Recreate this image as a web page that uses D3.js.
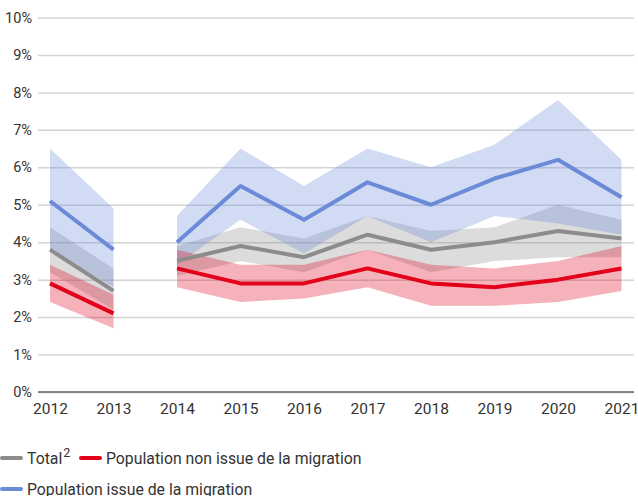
<!DOCTYPE html>
<html>
<head>
<meta charset="utf-8">
<script src="https://cdn.jsdelivr.net/npm/d3@7"></script>
<style>
  body { margin: 0; background: #fff; }
  svg { display: block; font-family: Roboto, sans-serif; }
</style>
</head>
<body>
<div id="chart"></div>
<script>
// years, the series break between 2013 and 2014
const years = [2012, 2013, 2014, 2015, 2016, 2017, 2018, 2019, 2020, 2021];
const segments = [[2012, 2013], [2014, 2015, 2016, 2017, 2018, 2019, 2020, 2021]];

// Total
const totalVal = [3.8, 2.7, 3.5, 3.9, 3.6, 4.2, 3.8, 4.0, 4.3, 4.1];
const totalLow = [3.2, 2.2, 3.1, 3.5, 3.2, 3.8, 3.2, 3.5, 3.6, 3.6];
const totalHigh = [4.4, 3.3, 3.9, 4.4, 4.1, 4.7, 4.3, 4.4, 5.0, 4.6];

// Population non issue de la migration
const nonMigVal = [2.9, 2.1, 3.3, 2.9, 2.9, 3.3, 2.9, 2.8, 3.0, 3.3];
const nonMigLow = [2.4, 1.7, 2.8, 2.4, 2.5, 2.8, 2.3, 2.3, 2.4, 2.7];
const nonMigHigh = [3.4, 2.6, 3.8, 3.4, 3.4, 3.8, 3.4, 3.3, 3.5, 3.9];

// Population issue de la migration
const migVal = [5.1, 3.8, 4.0, 5.5, 4.6, 5.6, 5.0, 5.7, 6.2, 5.2];
const migLow = [3.8, 2.8, 3.4, 4.6, 3.7, 4.7, 4.0, 4.7, 4.5, 4.2];
const migHigh = [6.5, 4.9, 4.7, 6.5, 5.5, 6.5, 6.0, 6.6, 7.8, 6.2];

const yTicks = [0, 1, 2, 3, 4, 5, 6, 7, 8, 9, 10];

const WIDTH = 638, HEIGHT = 496;
const PLOT = {LEFT: 38, RIGHT: 634, TOP: 17.5, BOTTOM: 392};

const series = [
  {name: 'total', val: totalVal, low: totalLow, high: totalHigh, line: '#8c8c8c', band: 'rgba(140,140,140,0.3)'},
  {name: 'mig', val: migVal, low: migLow, high: migHigh, line: '#6b8ad8', band: 'rgba(106,137,217,0.3)'},
  {name: 'nonmig', val: nonMigVal, low: nonMigLow, high: nonMigHigh, line: '#e2001a', band: 'rgba(226,0,26,0.3)'}
];

const svg = d3.select('#chart').append('svg')
  .attr('width', WIDTH)
  .attr('height', HEIGHT);

const x = d3.scalePoint()
  .domain(years)
  .range([50, 621.5]);

const y = d3.scaleLinear()
  .domain([0, 10])
  .range([PLOT.BOTTOM, PLOT.TOP]);

// gridlines + y labels
const yAxis = d3.axisLeft(y)
  .tickValues(yTicks)
  .tickSize(-(PLOT.RIGHT - PLOT.LEFT))
  .tickPadding(6)
  .tickFormat(d => d + '%');

const yg = svg.append('g')
  .attr('transform', `translate(${PLOT.LEFT},0)`)
  .call(yAxis);
yg.select('.domain').remove();
yg.selectAll('.tick line')
  .attr('stroke', '#d4d4d4')
  .attr('stroke-width', 1.5);
yg.selectAll('.tick text')
  .attr('fill', '#333')
  .attr('font-size', 14.5)
  .attr('font-family', 'Roboto, sans-serif');

// bands
const area = d3.area()
  .x(d => x(d.year))
  .y0(d => y(d.low))
  .y1(d => y(d.high));

const line = d3.line()
  .x(d => x(d.year))
  .y(d => y(d.val));

const rows = s => years.map((yr, i) => ({year: yr, val: s.val[i], low: s.low[i], high: s.high[i]}));

series.forEach(s => {
  const data = rows(s);
  segments.forEach(seg => {
    svg.append('path')
      .datum(data.filter(d => seg.includes(d.year)))
      .attr('fill', s.band)
      .attr('d', area);
  });
});

// baseline 0%
svg.append('line')
  .attr('x1', PLOT.LEFT).attr('x2', PLOT.RIGHT)
  .attr('y1', y(0)).attr('y2', y(0))
  .attr('stroke', '#666')
  .attr('stroke-width', 1.5);

// lines
series.forEach(s => {
  const data = rows(s);
  segments.forEach(seg => {
    svg.append('path')
      .datum(data.filter(d => seg.includes(d.year)))
      .attr('fill', 'none')
      .attr('stroke', s.line)
      .attr('stroke-width', 4)
      .attr('stroke-linejoin', 'round')
      .attr('d', line);
  });
});

// x axis labels
const xAxis = d3.axisBottom(x).tickSize(0).tickPadding(11);
const xg = svg.append('g')
  .attr('transform', `translate(0,${PLOT.BOTTOM})`)
  .call(xAxis);
xg.select('.domain').remove();
xg.selectAll('.tick text')
  .attr('fill', '#333')
  .attr('font-size', 15.5)
  .attr('font-family', 'Roboto, sans-serif');

// legend
const legend = svg.append('g').attr('font-size', 15.8).attr('fill', '#333');
const legendItems = [
  {x: 2, y: 458, color: '#8c8c8c', label: 'Total', sup: '2'},
  {x: 81, y: 458, color: '#e2001a', label: 'Population non issue de la migration'},
  {x: 2, y: 489, color: '#6b8ad8', label: 'Population issue de la migration'}
];
legendItems.forEach(item => {
  legend.append('line')
    .attr('x1', item.x).attr('x2', item.x + 19)
    .attr('y1', item.y).attr('y2', item.y)
    .attr('stroke', item.color)
    .attr('stroke-width', 4)
    .attr('stroke-linecap', 'round');
  const t = legend.append('text')
    .attr('x', item.x + 25)
    .attr('y', item.y + 6)
    .text(item.label);
  if (item.sup) {
    t.append('tspan')
      .attr('dx', 1)
      .attr('dy', -7)
      .attr('font-size', 12.5)
      .text(item.sup);
  }
});
</script>
</body>
</html>
